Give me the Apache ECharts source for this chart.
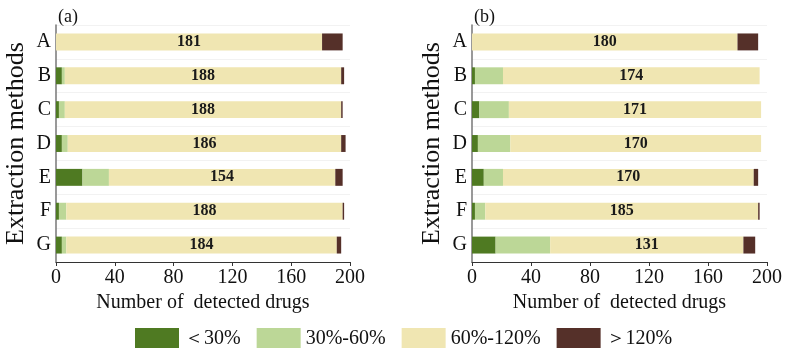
<!DOCTYPE html>
<html><head><meta charset="utf-8">
<script src="https://cdn.jsdelivr.net/npm/echarts@6/dist/echarts.min.js"></script>
<style>html,body{margin:0;padding:0;background:#fff}#c{width:788px;height:348px}</style>
</head><body><div id="c"></div>
<script>
var categories = ['A','B','C','D','E','F','G'];
var seriesNames = ['＜30%','30%-60%','60%-120%','＞120%'];
var xTicks = [0,40,80,120,160,200];
// panel (a)
var a_lt30   = [0,4,2,4,18,2,4];
var a_30_60  = [0,2,4,4,18,5,3];
var a_60_120 = [181,188,188,186,154,188,184];
var a_gt120  = [14,2,1,3,5,1,3];
// panel (b)
var b_lt30   = [0,2,5,4,8,2,16];
var b_30_60  = [0,19,20,22,13,7,37];
var b_60_120 = [180,174,171,170,170,185,131];
var b_gt120  = [14,0,0,0,3,1,8];

var colors = ['#4f7a22','#bcd797','#f0e6b2','#553029'];
var FONT = '"Liberation Serif", "Times New Roman", serif';

function mkSeries(idx, arrs){
  return arrs.map(function(d,i){
    return {
      name: seriesNames[i], type:'bar', stack:'s'+idx, xAxisIndex:idx, yAxisIndex:idx,
      data:d, barWidth:'50%', itemStyle:{color:colors[i]},
      label: i===2 ? {show:true, position:'inside', fontFamily:FONT, fontWeight:'bold', fontSize:16, color:'#1a1a1a'} : {show:false},
      emphasis:{disabled:true}
    };
  });
}
function xAx(idx){
  return {gridIndex:idx, type:'value', min:0, max:200, interval:40,
    name:'Number of  detected drugs', nameLocation:'middle', nameGap:30,
    nameTextStyle:{fontFamily:FONT, fontSize:20, color:'#111'},
    axisLine:{show:true, lineStyle:{color:'#333', width:1}},
    axisTick:{show:true, length:4, lineStyle:{color:'#333'}},
    axisLabel:{fontFamily:FONT, fontSize:20, color:'#111', margin:6, formatter:function(v){return xTicks.indexOf(v)>=0?String(v):'';}},
    splitLine:{show:false}};
}
function yAx(idx){
  return {gridIndex:idx, type:'category', data:categories, inverse:true,
    name:'Extraction methods', nameLocation:'middle', nameGap:27, nameRotate:90,
    nameTextStyle:{fontFamily:FONT, fontSize:26, color:'#111'},
    axisLine:{show:true, lineStyle:{color:'#777', width:1.5}},
    axisTick:{show:false},
    axisLabel:{fontFamily:FONT, fontSize:20, color:'#111', margin:5},
    splitLine:{show:true, lineStyle:{color:'#f2f2f2', width:1}}};
}
var chart = echarts.init(document.getElementById('c'), null, {renderer:'canvas'});
chart.setOption({
  animation:false,
  backgroundColor:'#fff',
  textStyle:{fontFamily:FONT},
  title:[
    {text:'(a)', left:53, top:3, textStyle:{fontFamily:FONT, fontSize:18, fontWeight:'normal', color:'#111'}},
    {text:'(b)', left:469, top:3, textStyle:{fontFamily:FONT, fontSize:18, fontWeight:'normal', color:'#111'}}
  ],
  legend:{data:seriesNames, left:130, top:323, itemWidth:44, itemHeight:22, itemGap:16,
    icon:'rect', textStyle:{fontFamily:FONT, fontSize:20, color:'#111'}, selectedMode:false},
  grid:[
    {left:56, width:294, top:25, height:237},
    {left:472, width:295, top:25, height:237}
  ],
  xAxis:[xAx(0), xAx(1)],
  yAxis:[yAx(0), yAx(1)],
  series: mkSeries(0,[a_lt30,a_30_60,a_60_120,a_gt120]).concat(mkSeries(1,[b_lt30,b_30_60,b_60_120,b_gt120]))
});
</script></body></html>
